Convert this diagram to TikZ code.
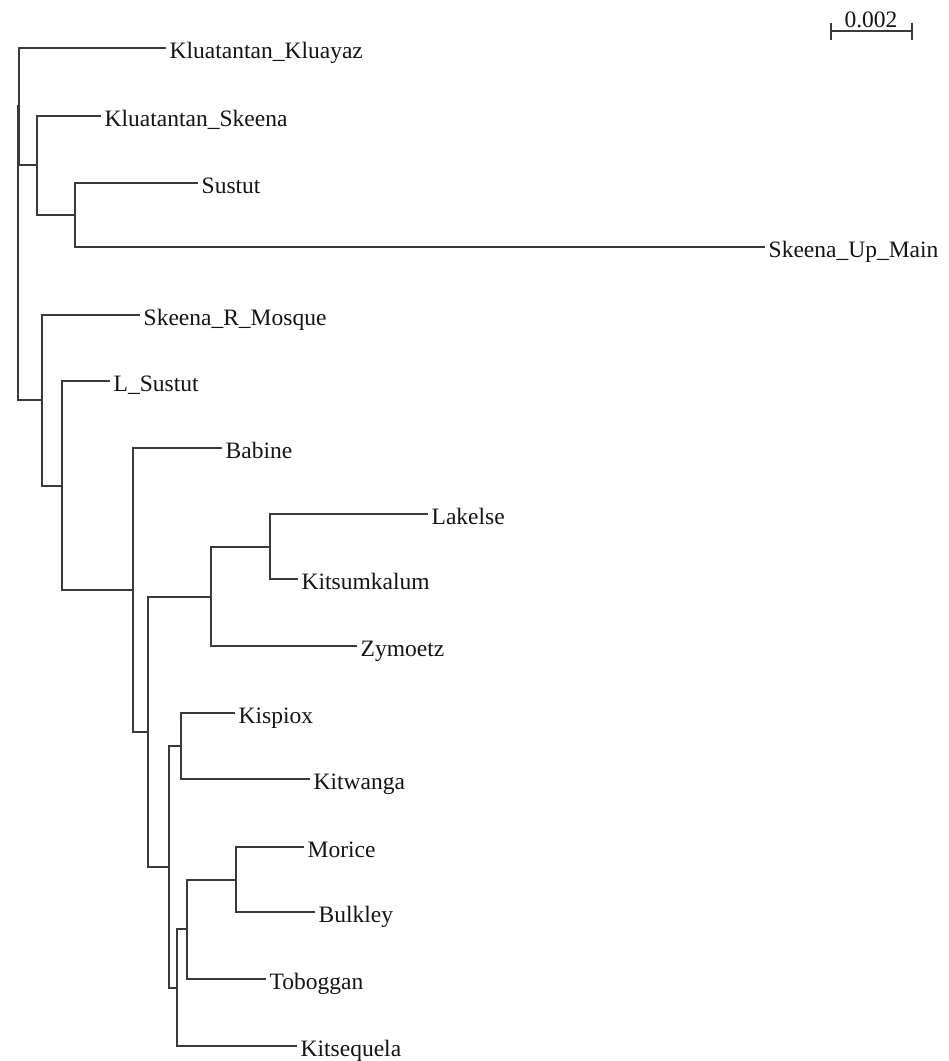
\documentclass[tikz,border=0pt]{standalone}
\usepackage{fontspec}
\setmainfont{Liberation Serif}
\usetikzlibrary{arrows.meta}
\definecolor{branchgray}{HTML}{3A3A3A}
\definecolor{labelblack}{HTML}{141414}

\begin{document}
\begin{tikzpicture}[x=1pt, y=-1pt,
    branch/.style={draw=branchgray, line width=1.7pt},
    leaf/.style={anchor=west, inner xsep=3.5pt, inner ysep=0pt, text height=20pt, text depth=0pt, text=labelblack, font=\fontsize{23.5}{28}\selectfont},
    scalebar/.style={draw=branchgray, line width=1.7pt, {Bar[width=17pt]}-{Bar[width=17pt]}},
    scalelbl/.style={anchor=base, inner sep=0pt, text=labelblack, font=\fontsize{23.5}{28}\selectfont}
]
    \useasboundingbox (0,0) rectangle (949,1061);

    % --- Leaves (tip of each branch) ---
    \node[leaf] (kluayaz) at (166,48) {Kluatantan\_Kluayaz};
    \node[leaf] (klskeena) at (101,116) {Kluatantan\_Skeena};
    \node[leaf] (sustut) at (198,183) {Sustut};
    \node[leaf] (upmain) at (765,247) {Skeena\_Up\_Main};
    \node[leaf] (mosque) at (140,315) {Skeena\_R\_Mosque};
    \node[leaf] (lsustut) at (110,381) {L\_Sustut};
    \node[leaf] (babine) at (222,448) {Babine};
    \node[leaf] (lakelse) at (428,514) {Lakelse};
    \node[leaf] (kitsumkalum) at (298,579) {Kitsumkalum};
    \node[leaf] (zymoetz) at (357,646) {Zymoetz};
    \node[leaf] (kispiox) at (235,713) {Kispiox};
    \node[leaf] (kitwanga) at (310,779) {Kitwanga};
    \node[leaf] (morice) at (304,847) {Morice};
    \node[leaf] (bulkley) at (315,912) {Bulkley};
    \node[leaf] (toboggan) at (266,979) {Toboggan};
    \node[leaf] (kitsequela) at (297,1046) {Kitsequela};

    % --- Internal nodes ---
    \coordinate (nSU) at (75,215);
    \coordinate (nKS) at (37,165);
    \coordinate (nTop) at (19,106);
    \coordinate (nLK) at (270,547);
    \coordinate (nLZ) at (211,597);
    \coordinate (nKK) at (181,746);
    \coordinate (nMB) at (236,880);
    \coordinate (nB7) at (187,929);
    \coordinate (nB6) at (177,988);
    \coordinate (nB5) at (169,867);
    \coordinate (nB4) at (148,732);
    \coordinate (nB3) at (133,590);
    \coordinate (nB2) at (62,486);
    \coordinate (nB1) at (42,400);
    \coordinate (root) at (18,253);

    % --- Branches ---
    \draw[branch] (sustut.west) -| (nSU) |- (upmain.west);
    \draw[branch] (klskeena.west) -| (nKS) |- (nSU);
    \draw[branch] (kluayaz.west) -| (nTop) |- (nKS);
    \draw[branch] (lakelse.west) -| (nLK) |- (kitsumkalum.west);
    \draw[branch] (nLK) -| (nLZ) |- (zymoetz.west);
    \draw[branch] (kispiox.west) -| (nKK) |- (kitwanga.west);
    \draw[branch] (morice.west) -| (nMB) |- (bulkley.west);
    \draw[branch] (nMB) -| (nB7) |- (toboggan.west);
    \draw[branch] (nB7) -| (nB6) |- (kitsequela.west);
    \draw[branch] (nKK) -| (nB5) |- (nB6);
    \draw[branch] (nLZ) -| (nB4) |- (nB5);
    \draw[branch] (babine.west) -| (nB3) |- (nB4);
    \draw[branch] (lsustut.west) -| (nB2) |- (nB3);
    \draw[branch] (mosque.west) -| (nB1) |- (nB2);
    \draw[branch] (nTop) -| (root) |- (nB1);

    % --- Scale bar ---
    \coordinate (sbl) at (830,31);
    \coordinate (sbr) at (913,31);
    \draw[scalebar] (sbl) -- (sbr);
    \node[scalelbl] (sblbl) at (871,27) {0.002};
\end{tikzpicture}
\end{document}
